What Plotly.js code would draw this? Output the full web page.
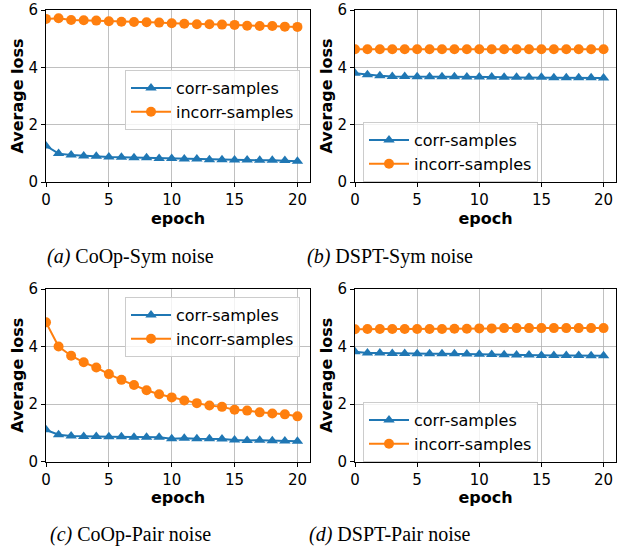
<!DOCTYPE html>
<html>
<head>
<meta charset="utf-8">
<script src="https://cdn.plot.ly/plotly-3.0.1.min.js"></script>
<style>html,body{margin:0;padding:0;background:#fff;}#chart{width:621px;height:550px;}</style>
</head>
<body>
<div id="chart"></div>
<script>
const epochs = [0,1,2,3,4,5,6,7,8,9,10,11,12,13,14,15,16,17,18,19,20];
const seriesNames = ["corr-samples", "incorr-samples"];
const captions = ["(a)", "(b)", "(c)", "(d)"];
const captionTexts = ["CoOp-Sym noise", "DSPT-Sym noise", "CoOp-Pair noise", "DSPT-Pair noise"];

const coopSymCorr   = [1.26,0.99,0.94,0.91,0.90,0.87,0.86,0.85,0.85,0.82,0.82,0.80,0.80,0.78,0.78,0.77,0.77,0.76,0.76,0.75,0.72];
const coopSymIncorr = [5.69,5.71,5.65,5.64,5.63,5.61,5.59,5.58,5.57,5.56,5.54,5.52,5.50,5.50,5.49,5.48,5.45,5.44,5.44,5.42,5.41];
const dsptSymCorr   = [3.79,3.74,3.71,3.68,3.68,3.67,3.67,3.67,3.67,3.66,3.66,3.66,3.65,3.65,3.65,3.65,3.64,3.64,3.64,3.64,3.63];
const dsptSymIncorr = [4.63,4.63,4.63,4.63,4.63,4.63,4.63,4.63,4.63,4.63,4.63,4.63,4.63,4.63,4.63,4.63,4.63,4.63,4.63,4.63,4.63];
const coopPairCorr   = [1.10,0.93,0.89,0.87,0.87,0.86,0.86,0.84,0.84,0.84,0.79,0.81,0.79,0.79,0.78,0.75,0.73,0.74,0.72,0.71,0.70];
const coopPairIncorr = [4.84,4.00,3.68,3.45,3.27,3.04,2.84,2.66,2.48,2.34,2.23,2.12,2.03,1.95,1.90,1.80,1.77,1.71,1.67,1.64,1.57];
const dsptPairCorr   = [3.82,3.77,3.77,3.76,3.76,3.75,3.75,3.75,3.75,3.74,3.73,3.72,3.71,3.70,3.70,3.69,3.69,3.69,3.69,3.68,3.68];
const dsptPairIncorr = [4.60,4.61,4.61,4.61,4.61,4.61,4.61,4.61,4.62,4.62,4.63,4.63,4.64,4.64,4.64,4.64,4.64,4.64,4.64,4.64,4.64];

const panels = [
  {corr: coopSymCorr, incorr: coopSymIncorr},
  {corr: dsptSymCorr, incorr: dsptSymIncorr},
  {corr: coopPairCorr, incorr: coopPairIncorr},
  {corr: dsptPairCorr, incorr: dsptPairIncorr}
];

const W = 621, H = 550;
const px = v => v / W;
const py = v => 1 - v / H;
// plot area pixel boxes [left,right,top,bottom]
const boxes = [
  [46, 310, 10, 182],
  [355, 616, 10, 182],
  [46, 310, 289, 461.5],
  [355, 616, 289, 461.5]
];
const legendPos = [[125, 70], [363, 122], [125, 297], [363, 402]];
const captionPos = [[130, 256], [390, 256], [130, 534], [390, 534]];

const blue = "#1f77b4", orange = "#ff7f0e";
const tickFont = {family: "DejaVu Sans", size: 15, color: "#000"};
const titleFont = {family: "DejaVu Sans", size: 16, color: "#000"};
const traces = [];
const layout = {
  width: W, height: H,
  margin: {l: 0, r: 0, t: 0, b: 0},
  paper_bgcolor: "#fff", plot_bgcolor: "#fff",
  showlegend: true,
  annotations: []
};

panels.forEach((p, i) => {
  const n = i + 1;
  const xa = n === 1 ? "x" : "x" + n;
  const ya = n === 1 ? "y" : "y" + n;
  const lg = n === 1 ? "legend" : "legend" + n;
  traces.push({
    x: epochs, y: p.corr, xaxis: xa, yaxis: ya, legend: lg,
    name: seriesNames[0], mode: "lines+markers",
    line: {color: blue, width: 2},
    marker: {symbol: "triangle-up", size: 10, color: blue}
  });
  traces.push({
    x: epochs, y: p.incorr, xaxis: xa, yaxis: ya, legend: lg,
    name: seriesNames[1], mode: "lines+markers",
    line: {color: orange, width: 2},
    marker: {symbol: "circle", size: 10, color: orange}
  });
  const b = boxes[i];
  const xKey = n === 1 ? "xaxis" : "xaxis" + n;
  const yKey = n === 1 ? "yaxis" : "yaxis" + n;
  layout[xKey] = {
    domain: [px(b[0]), px(b[1])], anchor: ya, range: [0, 21],
    tickvals: [0, 5, 10, 15, 20], ticks: "outside", ticklen: 4, tickcolor: "#000",
    showline: true, mirror: true, linecolor: "#000", linewidth: 1,
    showgrid: true, gridcolor: "#b0b0b0", gridwidth: 0.8, zeroline: false,
    tickfont: tickFont,
    title: {text: "<b>epoch</b>", font: titleFont, standoff: 0}
  };
  layout[yKey] = {
    domain: [py(b[3]), py(b[2])], anchor: xa, range: [0, 6],
    tickvals: [0, 2, 4, 6], ticks: "outside", ticklen: 4, tickcolor: "#000",
    showline: true, mirror: true, linecolor: "#000", linewidth: 1,
    showgrid: true, gridcolor: "#b0b0b0", gridwidth: 0.8, zeroline: false,
    tickfont: tickFont,
    title: {text: "<b>Average loss</b>", font: titleFont, standoff: 0}
  };
  const lp = legendPos[i];
  layout[lg] = {
    x: px(lp[0]), y: py(lp[1]), xanchor: "left", yanchor: "top",
    xref: "paper", yref: "paper",
    bgcolor: "rgba(255,255,255,0.8)", bordercolor: "#cccccc", borderwidth: 1,
    font: {family: "DejaVu Sans", size: 16, color: "#000"},
    tracegroupgap: 0, itemwidth: 40
  };
  const cp = captionPos[i];
  layout.annotations.push({
    xref: "paper", yref: "paper", x: px(cp[0]), y: py(cp[1]),
    xanchor: "center", yanchor: "middle", showarrow: false,
    text: "<i>" + captions[i] + "</i> " + captionTexts[i],
    font: {family: "Liberation Serif", size: 20, color: "#000"}
  });
});

Plotly.newPlot("chart", traces, layout, {displayModeBar: false, staticPlot: true});
</script>
</body>
</html>
